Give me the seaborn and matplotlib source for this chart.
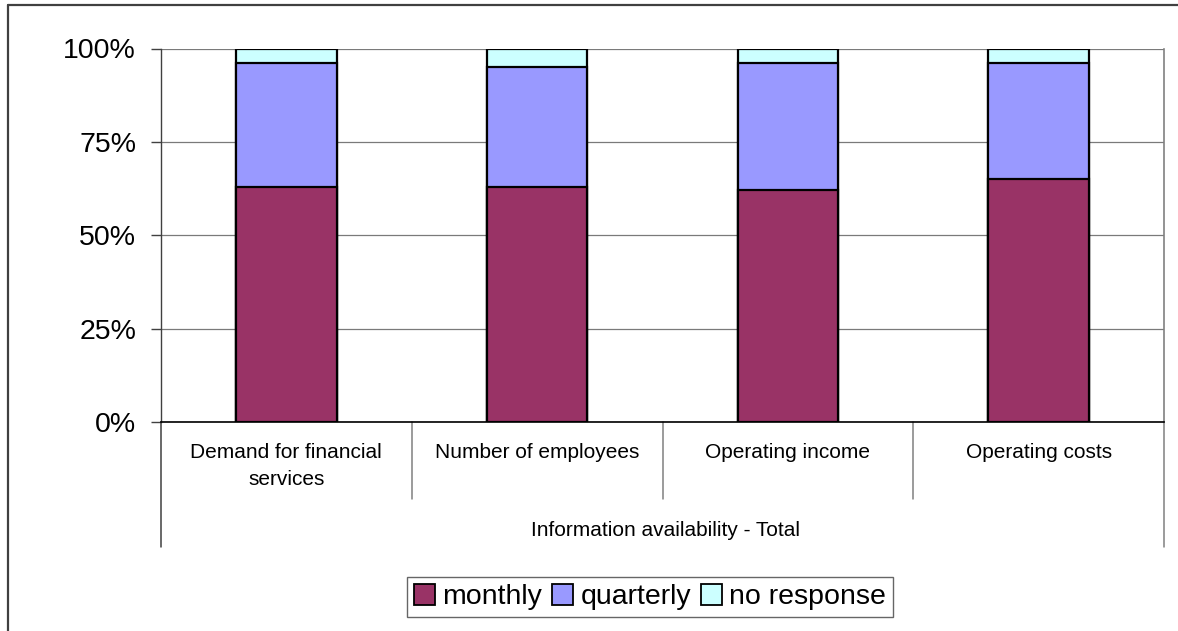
import matplotlib
matplotlib.use("Agg")
import matplotlib.pyplot as plt
import matplotlib.transforms as mtransforms
from matplotlib.lines import Line2D
from matplotlib.patches import Patch
import numpy as np
import pandas as pd
import seaborn as sns

# Survey shares (%) per indicator
categories = ["Demand for financial\nservices", "Number of employees",
              "Operating income", "Operating costs"]
monthly = [63, 63, 62, 65]
quarterly = [33, 32, 34, 31]
no_response = [4, 5, 4, 4]
series_names = ["monthly", "quarterly", "no response"]
series_colors = ["#993366", "#9999FF", "#CCFFFF"]
y_ticks = [0, 25, 50, 75, 100]
y_tick_labels = ["0%", "25%", "50%", "75%", "100%"]
group_label = "Information availability - Total"

sns.set_theme(style="white")
plt.rcParams["font.family"] = ["Liberation Sans", "DejaVu Sans"]
plt.rcParams["text.color"] = "black"
plt.rcParams["ytick.labelcolor"] = "black"

W, H = 1178, 631
fig = plt.figure(figsize=(W / 100, H / 100), dpi=100)
ax = fig.add_axes([161 / W, 1 - 422 / H, (1164 - 161) / W, (422 - 48.5) / H])

df = pd.DataFrame({"cat": categories, "monthly": monthly,
                   "quarterly": quarterly, "no response": no_response})
df["top_q"] = df["monthly"] + df["quarterly"]
df["top_n"] = df["top_q"] + df["no response"]

# stacked bars: draw cumulative heights back to front
for col, color in zip(["top_n", "top_q", "monthly"], series_colors[::-1]):
    sns.barplot(data=df, x="cat", y=col, color=color, edgecolor="black",
                linewidth=1.6, width=0.4, saturation=1, ax=ax, zorder=3)

ax.set_xlim(-0.5, len(categories) - 0.5)
ax.set_ylim(0, 100)
ax.set_yticks(y_ticks)
ax.set_yticklabels(y_tick_labels, fontsize=20.5, color="black")
ax.set_xticks([])
ax.set_xlabel("")
ax.set_ylabel("")
ax.tick_params(axis="y", which="both", left=True, length=7, width=1,
               color="#404040", pad=11, labelcolor="black")
ax.yaxis.grid(True, color="#7a7a7a", linewidth=0.9, zorder=0)
ax.set_axisbelow(True)

ax.spines["top"].set_visible(False)
ax.spines["left"].set_color("#404040")
ax.spines["left"].set_linewidth(1.0)
ax.spines["bottom"].set_color("black")
ax.spines["bottom"].set_linewidth(1.2)
ax.spines["right"].set_color("#808080")
ax.spines["right"].set_linewidth(1.2)

# multi-level category axis
trans = mtransforms.blended_transform_factory(ax.transData, ax.transAxes)
ax_h = 422 - 48.5
y_inner = -(499 - 422) / ax_h
y_outer = -(547 - 422) / ax_h
n = len(categories)
for i in range(n + 1):
    xb = i - 0.5
    yend = y_outer if i in (0, n) else y_inner
    color = "#404040" if i == 0 else "#808080"
    ax.add_line(Line2D([xb, xb], [0, yend], transform=trans, color=color,
                       linewidth=1.1, clip_on=False))
for i, lab in enumerate(categories):
    ax.text(i, -(443 - 422) / ax_h, lab, transform=trans, ha="center",
            va="top", fontsize=15, multialignment="center", linespacing=1.55,
            color="black")
ax.text(0.5025, -(530 - 422) / ax_h, group_label, transform=ax.transAxes,
        ha="center", va="center", fontsize=15, color="black")

# legend
handles = [Patch(facecolor=c, edgecolor="black", linewidth=1.3, label=s)
           for s, c in zip(series_names, series_colors)]
leg = fig.legend(handles=handles, loc="center", ncol=3,
                 bbox_to_anchor=(650 / W, 1 - 597 / H), fontsize=20.5,
                 frameon=True, fancybox=False, handlelength=0.75,
                 handleheight=0.75, handletextpad=0.25, columnspacing=0.35,
                 borderpad=0.25, borderaxespad=0, labelcolor="black")
leg.get_frame().set_edgecolor("#404040")
leg.get_frame().set_linewidth(1.0)

# outer chart frame
fig.add_artist(Line2D([8 / W, 8 / W], [0, 1 - 5 / H], transform=fig.transFigure,
                      color="#404040", linewidth=1.6))
fig.add_artist(Line2D([8 / W, 1], [1 - 5 / H, 1 - 5 / H], transform=fig.transFigure,
                      color="#404040", linewidth=1.6))

fig.savefig("out.png", dpi=100, facecolor="white")
